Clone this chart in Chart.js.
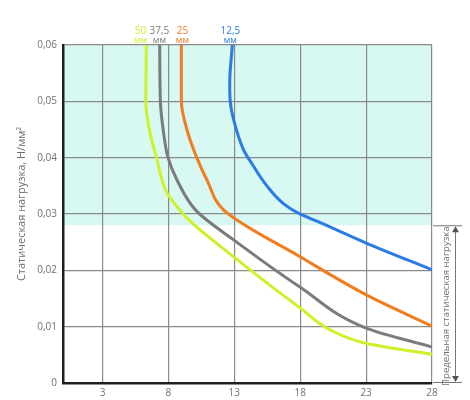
<!DOCTYPE html>
<html>
<head>
<meta charset="utf-8">
<script src="https://cdn.jsdelivr.net/npm/chart.js@4.4.0/dist/chart.umd.min.js"></script>
<style>
html,body{margin:0;padding:0;background:#fff;}
#wrap{width:470px;height:400px;}
</style>
</head>
<body>
<div id="wrap"><canvas id="c" width="470" height="400"></canvas></div>
<script>
// Data
const seriesNames = ['50', '37,5', '25', '12,5'];
const seriesColors = ['#ccf22a', '#7b7b7b', '#f07d1e', '#2a7be6'];
const labelX = [5.88, 7.32, 9.06, 12.7];

const x50 = [6.33, 6.28, 6.55, 7.09, 7.9, 8.66, 9.3, 12.95, 18.0, 20.3, 23.05, 28.0];
const y50 = [0.060, 0.050, 0.045, 0.040, 0.0337, 0.0313, 0.0295, 0.0224, 0.0133, 0.0094, 0.0070, 0.0051];

const x375 = [7.34, 7.39, 7.6, 7.97, 8.66, 10.1, 12.95, 18.0, 23.05, 28.0];
const y375 = [0.060, 0.050, 0.045, 0.040, 0.036, 0.0306, 0.0254, 0.0170, 0.0097, 0.0064];

const x25 = [8.98, 8.98, 9.4, 10.15, 10.93, 12.2, 18.0, 23.05, 28.0];
const y25 = [0.060, 0.050, 0.045, 0.040, 0.036, 0.0307, 0.0224, 0.0156, 0.0101];

const x125 = [12.85, 12.65, 12.7, 12.95, 13.7, 14.4, 15.5, 16.7, 17.9, 19.4, 23.05, 28.0];
const y125 = [0.060, 0.0532, 0.0497, 0.0467, 0.0414, 0.0387, 0.0349, 0.0319, 0.0301, 0.0286, 0.0248, 0.0201];

const xTicks = [3, 8, 13, 18, 23, 28];
const yTicks = [0, 0.01, 0.02, 0.03, 0.04, 0.05, 0.06];
const limitLoad = 0.028;

const yTitle = 'Статическая нагрузка, Н/мм²';
const limitText = 'Предельная статическая нагрузка';
const unitText = 'мм';

const FONT = '"Open Sans", "Noto Sans", sans-serif';
const TXT = '#707070';

function pts(xs, ys){ return xs.map((x,i)=>({x:x, y:ys[i]})); }
const allX = [x50, x375, x25, x125];
const allY = [y50, y375, y25, y125];

const bandPlugin = {
  id: 'band',
  beforeDraw(chart){
    const {ctx, chartArea, scales} = chart;
    const yTop = scales.y.getPixelForValue(0.06);
    const yB = scales.y.getPixelForValue(limitLoad);
    ctx.save();
    ctx.fillStyle = '#d7f8f3';
    ctx.fillRect(chartArea.left, yTop, chartArea.right - chartArea.left, yB - yTop);
    ctx.restore();
  }
};

const annoPlugin = {
  id: 'anno',
  afterDraw(chart){
    const {ctx, chartArea, scales} = chart;
    const xs = scales.x;
    ctx.save();
    // y axis title
    ctx.save();
    ctx.translate(22, 204);
    ctx.rotate(-Math.PI / 2);
    ctx.fillStyle = TXT;
    ctx.font = '11px ' + FONT;
    ctx.textAlign = 'center';
    ctx.textBaseline = 'middle';
    ctx.fillText(yTitle, 0, 0);
    ctx.restore();
    // top labels
    ctx.textAlign = 'center';
    ctx.textBaseline = 'middle';
    seriesNames.forEach((n,i)=>{
      const px = xs.getPixelForValue(labelX[i]);
      ctx.fillStyle = seriesColors[i];
      ctx.font = '10px ' + FONT;
      ctx.fillText(n, px, 31);
      ctx.font = '9px ' + FONT;
      ctx.fillText(unitText, px, 40);
    });
    // right bracket
    const yT = scales.y.getPixelForValue(limitLoad);
    const yB = scales.y.getPixelForValue(0);
    const x0 = chartArea.right + 1;
    const x1 = chartArea.right + 30;
    const xa = chartArea.right + 23;
    ctx.strokeStyle = '#777';
    ctx.lineWidth = 1;
    ctx.beginPath();
    ctx.moveTo(x0, yT + 0.5); ctx.lineTo(x1, yT + 0.5);
    ctx.moveTo(x0, yB - 0.5); ctx.lineTo(x1, yB - 0.5);
    ctx.moveTo(xa + 0.5, yT + 3); ctx.lineTo(xa + 0.5, yB - 3);
    ctx.stroke();
    ctx.fillStyle = '#555';
    ctx.beginPath();
    ctx.moveTo(xa + 0.5, yT + 1); ctx.lineTo(xa - 3, yT + 7); ctx.lineTo(xa + 4, yT + 7); ctx.closePath();
    ctx.fill();
    ctx.beginPath();
    ctx.moveTo(xa + 0.5, yB - 1); ctx.lineTo(xa - 3, yB - 7); ctx.lineTo(xa + 4, yB - 7); ctx.closePath();
    ctx.fill();
    // rotated text
    ctx.translate(chartArea.right + 14, (yT + yB) / 2 + 2);
    ctx.rotate(-Math.PI / 2);
    ctx.fillStyle = TXT;
    ctx.font = '9.6px ' + FONT;
    ctx.textAlign = 'center';
    ctx.textBaseline = 'middle';
    ctx.fillText(limitText, 0, 0);
    ctx.restore();
  }
};

new Chart(document.getElementById('c'), {
  type: 'scatter',
  data: {
    datasets: seriesNames.map((n,i)=>({
      label: n,
      data: pts(allX[i], allY[i]),
      showLine: true,
      indexAxis: 'y',
      cubicInterpolationMode: 'monotone',
      borderColor: seriesColors[i],
      backgroundColor: seriesColors[i],
      borderWidth: 3,
      pointRadius: 0,
      fill: false
    }))
  },
  options: {
    responsive: false,
    animation: false,
    devicePixelRatio: 1,
    layout: { padding: { top: 45, right: 38, left: 0, bottom: 0 } },
    plugins: { legend: { display: false }, tooltip: { enabled: false } },
    scales: {
      x: {
        type: 'linear', min: 0, max: 28,
        afterBuildTicks(scale){ scale.ticks = xTicks.map(v=>({value:v})); },
        afterFit(scale){ scale.height = 17; },
        grid: { color: '#8a8a8a', lineWidth: 1.2, drawTicks: false },
        border: { color: '#1e1e1e', width: 2.5 },
        ticks: { color: TXT, font: { family: FONT, size: 10 }, padding: 4, maxRotation: 0, autoSkip: false }
      },
      y: {
        type: 'linear', min: 0, max: 0.06,
        afterBuildTicks(scale){ scale.ticks = yTicks.map(v=>({value:v})); },
        afterFit(scale){ scale.width = 63; },
        grid: { color: '#8a8a8a', lineWidth: 1.2, drawTicks: false },
        border: { color: '#1e1e1e', width: 2.5 },
        ticks: {
          color: TXT, font: { family: FONT, size: 10 }, padding: 6,
          callback(v){ return v === 0 ? '0' : v.toFixed(2).replace('.', ','); }
        }
      }
    }
  },
  plugins: [bandPlugin, annoPlugin]
});
</script>
</body>
</html>
